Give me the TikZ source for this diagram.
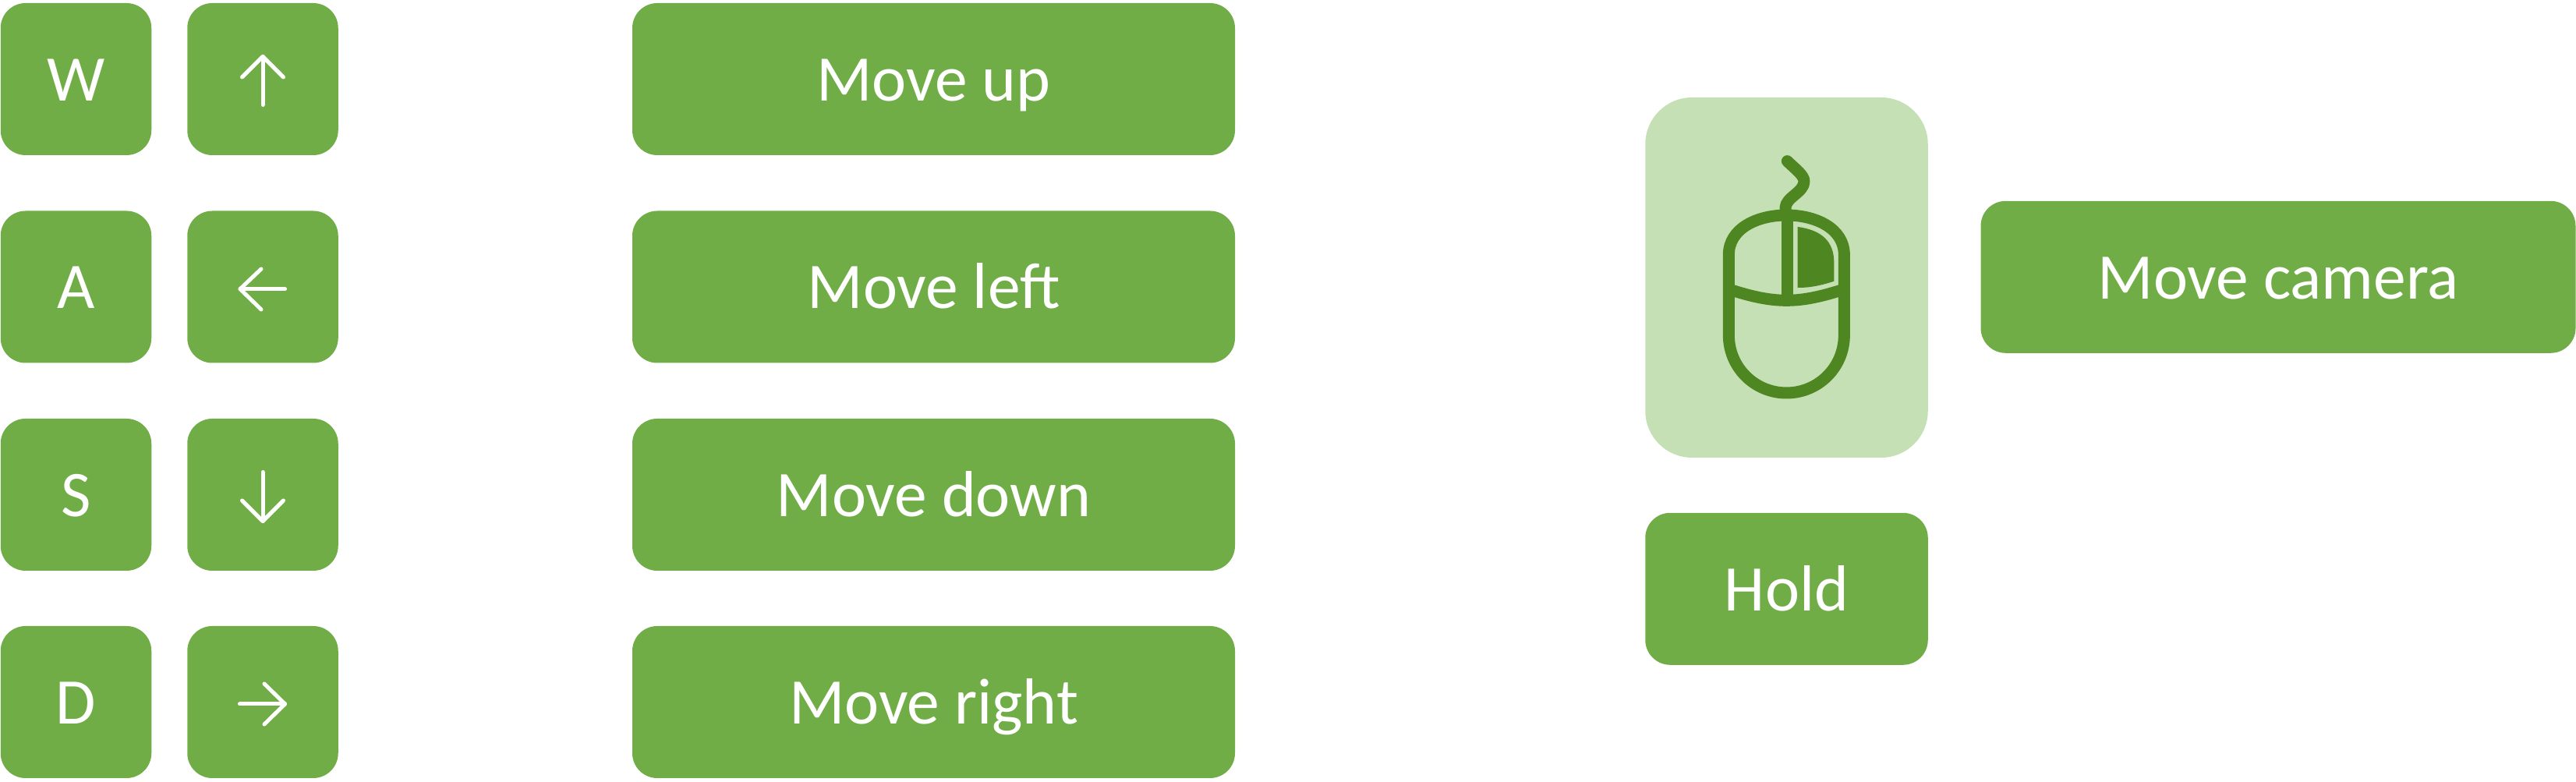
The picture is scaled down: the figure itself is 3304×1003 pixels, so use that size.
\documentclass[tikz,border=0pt]{standalone}
\usepackage{fontspec}
\setmainfont{Carlito}
\definecolor{boxgreen}{HTML}{70AD47}
\definecolor{panelgreen}{HTML}{C5E0B4}
\definecolor{icongreen}{HTML}{4E8722}
\tikzset{
  basebox/.style={fill=boxgreen,draw=none,rounded corners=32pt,inner sep=0pt,outer sep=0pt,
    text=white,align=center,text height=125.5pt,text depth=69.5pt,font=\fontsize{83.5}{90}\selectfont},
  keybox/.style={basebox,minimum width=193.5pt,minimum height=195pt},
  widebox/.style={basebox,minimum width=773pt,minimum height=195pt},
  camerabox/.style={basebox,minimum width=763pt,minimum height=195pt},
  holdbox/.style={basebox,minimum width=362.5pt,minimum height=195pt},
  panelbox/.style={fill=panelgreen,draw=none,rounded corners=60pt,inner sep=0pt,outer sep=0pt,
    minimum width=362.5pt,minimum height=462pt},
  glyph/.style={draw=white,line width=5pt,line cap=round,line join=round},
  mouseline/.style={draw=icongreen,line width=15pt,line cap=butt,line join=round},
}
\begin{document}
\begin{tikzpicture}[x=1pt,y=1pt]
\useasboundingbox (0,0) rectangle (3304,1003);
% key column 1
\node[keybox] (kw) at (97.5,901.5) {W};
\node[keybox] (ka) at (97.5,635) {A};
\node[keybox] (ks) at (97.5,368.5) {S};
\node[keybox] (kd) at (97.5,102.5) {D};
% key column 2
\node[keybox] (ku) at (337,901.5) {};
\node[keybox] (kl) at (337,635) {};
\node[keybox] (kn) at (337,368.5) {};
\node[keybox] (kr) at (337,102.5) {};
% arrow glyphs
\draw[glyph] ([shift={(0,-33)}]ku.center) -- ([shift={(0,29)}]ku.center);
\draw[glyph] ([shift={(-26.5,2.5)}]ku.center) -- ([shift={(0,29)}]ku.center) -- ([shift={(26.5,2.5)}]ku.center);
\draw[glyph] ([shift={(28.5,-2.7)}]kl.center) -- ([shift={(-29,-2.7)}]kl.center);
\draw[glyph] ([shift={(-2,23)}]kl.center) -- ([shift={(-29,-2.7)}]kl.center) -- ([shift={(-2,-29)}]kl.center);
\draw[glyph] ([shift={(0,29)}]kn.center) -- ([shift={(0,-34)}]kn.center);
\draw[glyph] ([shift={(-26.5,-7.5)}]kn.center) -- ([shift={(0,-34)}]kn.center) -- ([shift={(26.5,-7.5)}]kn.center);
\draw[glyph] ([shift={(-29.5,-2.5)}]kr.center) -- ([shift={(28.5,-2.5)}]kr.center);
\draw[glyph] ([shift={(2,23.5)}]kr.center) -- ([shift={(28.5,-2.5)}]kr.center) -- ([shift={(2,-28.5)}]kr.center);
% wide boxes
\node[widebox] (mu) at (1197.5,901.5) {Move up};
\node[widebox] (ml) at (1197.5,635) {Move left};
\node[widebox] (md) at (1197.5,368.5) {Move down};
\node[widebox] (mr) at (1197.5,102.5) {Move right};
\node[camerabox] (mc) at (2922,647.7) {Move camera};
\node[holdbox] (hold) at (2291.5,247.7) {Hold};
\node[panelbox] (panel) at (2291.5,647) {};
% mouse icon: coordinates are in thirds of a pixel, y downwards
\begin{scope}[shift={(2100,893)},x=0.33333pt,y=-0.33333pt]
  \fill[icongreen] (617,543) .. controls (710,555) and (757,600) .. (757,680) -- (757,752)
    .. controls (710,768) and (660,778) .. (617,777) -- cycle;
  \draw[mouseline] (574,498) .. controls (460,498) and (352,550) .. (352,650) -- (352,960)
    .. controls (352,1083) and (451,1182) .. (574,1182)
    .. controls (697,1182) and (796,1083) .. (796,960) -- (796,650)
    .. controls (796,550) and (688,498) .. (574,498) -- cycle;
  \draw[mouseline] (352,783) .. controls (430,808) and (500,826) .. (574,826)
    .. controls (648,826) and (718,808) .. (796,783);
  \draw[mouseline] (577,498) -- (577,826);
  \draw[mouseline,line cap=round] (577,290) .. controls (610,322) and (642,345) .. (642,368)
    .. controls (642,410) and (570,430) .. (570,470) -- (570,498);
\end{scope}
\end{tikzpicture}
\end{document}
